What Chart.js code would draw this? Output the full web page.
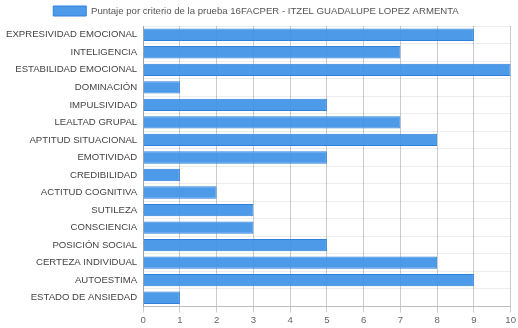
<!DOCTYPE html>
<html>
<head>
<meta charset="utf-8">
<script src="https://cdn.jsdelivr.net/npm/chart.js@4"></script>
<style>
  html, body { margin: 0; padding: 0; background: #fff; }
  #wrap { width: 518px; height: 328px; }
</style>
</head>
<body>
<div id="wrap"><canvas id="chart" width="518" height="328"></canvas></div>
<script>
const criterios = [
    'EXPRESIVIDAD EMOCIONAL', 'INTELIGENCIA', 'ESTABILIDAD EMOCIONAL', 'DOMINACIÓN',
    'IMPULSIVIDAD', 'LEALTAD GRUPAL', 'APTITUD SITUACIONAL', 'EMOTIVIDAD',
    'CREDIBILIDAD', 'ACTITUD COGNITIVA', 'SUTILEZA', 'CONSCIENCIA',
    'POSICIÓN SOCIAL', 'CERTEZA INDIVIDUAL', 'AUTOESTIMA', 'ESTADO DE ANSIEDAD'
];
const puntajes = [9, 7, 10, 1, 5, 7, 8, 5, 1, 2, 3, 3, 5, 8, 9, 1];
const serieLabel = 'Puntaje por criterio de la prueba 16FACPER - ITZEL GUADALUPE LOPEZ ARMENTA';

Chart.defaults.font.family = '"Liberation Sans", Arial, sans-serif';
Chart.defaults.font.size = 9.6;
Chart.defaults.color = '#666';

new Chart(document.getElementById('chart'), {
    type: 'bar',
    data: {
        labels: criterios,
        datasets: [{
            label: serieLabel,
            data: puntajes,
            backgroundColor: 'rgba(62, 146, 230, 0.92)',
            borderColor: 'rgba(48, 128, 220, 1)',
            borderWidth: 1,
            categoryPercentage: 0.8,
            barPercentage: 0.88
        }]
    },
    options: {
        indexAxis: 'y',
        responsive: false,
        animation: false,
        layout: { padding: { left: 0, right: 6, top: 0, bottom: 0 } },
        plugins: {
            legend: {
                labels: { boxWidth: 33, boxHeight: 10, padding: 6, color: '#555' }
            },
            tooltip: { enabled: false }
        },
        scales: {
            x: {
                min: 0,
                max: 10,
                ticks: { stepSize: 1, color: '#666', padding: 2 },
                grid: { color: 'rgba(0, 0, 0, 0.2)', tickLength: 6 },
                border: { color: 'rgba(0, 0, 0, 0.2)' }
            },
            y: {
                ticks: { color: '#444', autoSkip: false, padding: 6 },
                grid: { color: 'rgba(0, 0, 0, 0.07)', tickLength: 0 },
                border: { color: 'rgba(0, 0, 0, 0.2)' }
            }
        }
    }
});
</script>
</body>
</html>
